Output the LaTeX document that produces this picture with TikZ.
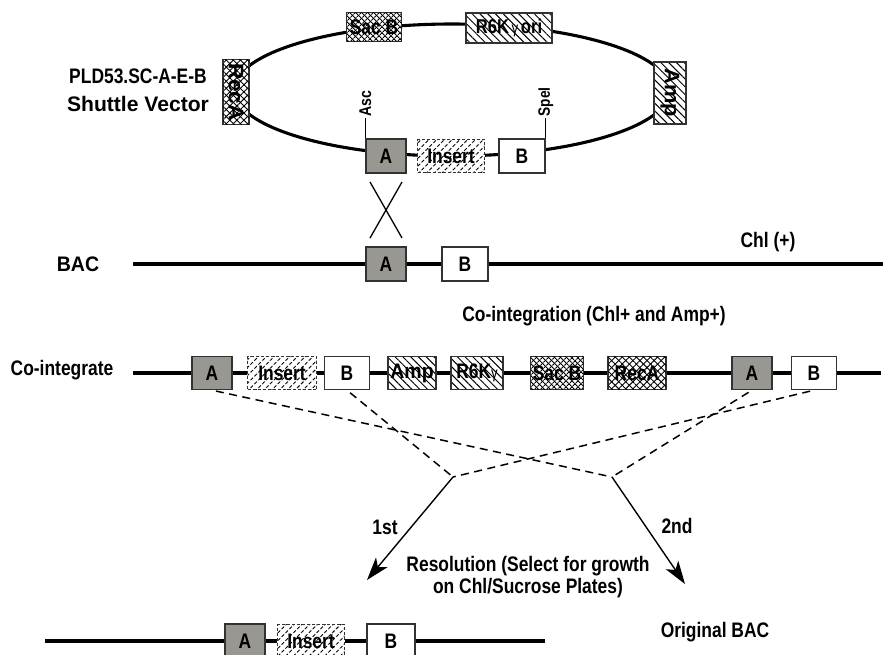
\documentclass[tikz,border=0pt]{standalone}
\usepackage{fontspec}
\setmainfont{Liberation Sans}[FakeStretch=0.83]
\usetikzlibrary{patterns.meta,arrows.meta}
\definecolor{agray}{RGB}{152,151,146}
\definecolor{edge}{RGB}{50,50,50}
\begin{document}
\begin{tikzpicture}[x=1pt,y=-1pt,
  font=\bfseries\fontsize{21}{22}\selectfont,
  lbl/.style={font=\bfseries\fontsize{21}{22}\selectfont, inner sep=0pt},
  box/.style={draw=edge, line width=1.4pt, minimum height=33pt, inner sep=0pt},
  abox/.style={box, fill=agray, minimum width=40pt, font=\bfseries\fontsize{21}{22}\selectfont},
  bbox/.style={box, fill=white, minimum width=46pt, font=\bfseries\fontsize{21}{22}\selectfont},
  insbox/.style={box, dash pattern=on 3pt off 2pt, preaction={fill=white},
     pattern={Lines[angle=45,distance=5.5pt,line width=0.9pt]}, minimum width=67pt},
  nwbox/.style={box, preaction={fill=white},
     pattern={Lines[angle=-45,distance=5.5pt,line width=1pt]}},
  xbox/.style={box, preaction={fill=white},
     pattern={Lines[angle=45,distance=5pt,line width=0.9pt]},
     postaction={pattern={Lines[angle=-45,distance=5pt,line width=0.9pt]}}},
  dxbox/.style={box, preaction={fill=white},
     pattern={Lines[angle=45,distance=4pt,line width=1.1pt]},
     postaction={pattern={Lines[angle=-45,distance=4pt,line width=1.1pt]}}},
  boxtxt/.style={font=\bfseries\fontsize{21}{22}\selectfont},
  dna/.style={line width=3.6pt},
  site/.style={line width=1pt},
  dsh/.style={line width=1.5pt, dash pattern=on 8pt off 5.5pt, shorten <=4pt},
  arr/.style={line width=1.4pt, -{Stealth[length=23pt,width=15pt,inset=6pt]}}
]
\useasboundingbox (0,0) rectangle (883,654);

% ---------- shuttle vector ----------
\draw[line width=3.1pt] (452,90) ellipse [x radius=218pt, y radius=66pt];
\node[dxbox, minimum width=55pt, minimum height=29pt, boxtxt] (sacb) at (374,27) {Sac B};
\node[nwbox, minimum width=86pt, minimum height=30pt, font=\bfseries\fontsize{20}{22}\selectfont] (r6k) at (509,28) {R6K{\mdseries\fontsize{16}{16}\selectfont\,γ\,}ori};
\node[xbox, minimum width=26pt, minimum height=65pt] (reca) at (236,92)
   {\rotatebox{-90}{\scalebox{1.3}[1]{RecA}}};
\node[nwbox, minimum width=32pt, minimum height=62pt] (amp) at (670,93)
   {\rotatebox{-90}{\scalebox{1.25}[1]{Amp}}};
\node[abox, minimum height=34pt] (va) at (386,156) {A};
\node[insbox, boxtxt] (vins) at (451,156) {Insert};
\node[bbox, minimum height=34pt] (vb) at (522,156) {B};
\draw[site] (va.north west) -- ++(0,-20) node[rotate=90, anchor=west, inner sep=1.5pt,
   font=\bfseries\fontsize{17}{18}\selectfont] (asc) {Asc};
\draw[site] (vb.north east) -- ++(0,-20) node[rotate=90, anchor=west, inner sep=1.5pt,
   font=\bfseries\fontsize{16.5}{18}\selectfont] (spe) {SpeI};
\node[lbl] (vlab1) at (138,76) {PLD53.SC-A-E-B};
\node[lbl] (vlab2) at (138,104) {\scalebox{1.21}[1]{Shuttle Vector}};

% crossover
\draw[line width=1.3pt] (370,182) -- (402,238) (402,182) -- (370,238);

% ---------- BAC ----------
\node[lbl] (baclab) at (78,264) {\scalebox{1.12}[1]{BAC}};
\coordinate (bs) at (133,264);
\coordinate (be) at (883,264);
\node[abox, minimum height=34pt] (ba) at (386,264) {A};
\node[bbox, minimum height=34pt] (bb) at (465,264) {B};
\draw[dna] (bs) -- (ba) -- (bb) -- (be);
\node[lbl] (chl) at (768,242) {Chl (+)};
\node[lbl] (coint) at (594,316) {Co-integration (Chl+ and Amp+)};

% ---------- co-integrate ----------
\node[lbl] (colab) at (62,370) {Co-integrate};
\coordinate (cs) at (133,373);
\coordinate (ce) at (881,373);
\node[abox] (ca1) at (212,373) {A};
\node[insbox, boxtxt, minimum width=69pt] (cins) at (282,373) {Insert};
\node[bbox, minimum width=45pt] (cb1) at (347,373) {B};
\node[nwbox, minimum width=48pt, boxtxt] (camp) at (412,373) {\scalebox{1.12}[1]{Amp}};
\node[nwbox, minimum width=52pt, boxtxt] (cr6k) at (477,373) {R6K{\mdseries\fontsize{16}{16}\selectfont γ}};
\node[dxbox, minimum width=53pt, boxtxt] (csac) at (557,373) {Sac B};
\node[xbox, minimum width=58pt, boxtxt] (creca) at (637,373) {RecA};
\node[abox] (ca2) at (752,373) {A};
\node[bbox, minimum width=45pt] (cb2) at (814,373) {B};
\draw[dna] (cs) -- (ca1) -- (cins) -- (cb1) -- (camp) -- (cr6k) -- (csac) -- (creca) -- (ca2) -- (cb2) -- (ce);

% resolution lines
\coordinate (p1) at (453,477);
\coordinate (p2) at (612,477);
\draw[dsh] (ca1.south) -- (p2);
\draw[dsh] (cb1.south) -- (p1);
\draw[dsh] (cb2.south) -- (p1);
\draw[dsh] (ca2.south) -- (p2);
\coordinate (t1) at (367,580);
\coordinate (t2) at (685,584);
\draw[arr] (p1) -- (t1);
\draw[arr] (p2) -- (t2);
\node[lbl] (first) at (385,527) {1st};
\node[lbl] (second) at (677,526) {2nd};
\node[lbl, align=center] (reso) at (528,577) {Resolution (Select for growth\\ on Chl/Sucrose Plates)};

% ---------- result ----------
\coordinate (rs) at (45,641);
\coordinate (re) at (545,641);
\node[abox, minimum height=34pt] (ra) at (245,641) {A};
\node[insbox, boxtxt] (rins) at (311,641) {Insert};
\node[bbox, minimum width=48pt, minimum height=34pt] (rb) at (391,641) {B};
\draw[dna] (rs) -- (ra) -- (rins) -- (rb) -- (re);
\node[lbl] (orig) at (715,632) {Original BAC};
\end{tikzpicture}
\end{document}
